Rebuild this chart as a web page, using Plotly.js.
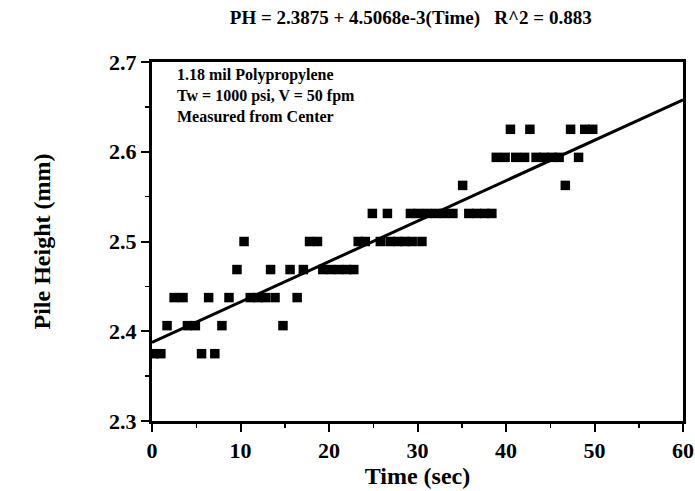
<!DOCTYPE html>
<html><head><meta charset="utf-8">
<script src="https://cdn.plot.ly/plotly-3.0.1.min.js"></script>
<style>html,body{margin:0;padding:0;background:#fff}</style>
</head><body><div id="chart" style="width:695px;height:491px"></div>
<script>
// Measured data (time in sec, pile height in mm)
const timeSec = [0.2,1.0,5.6,7.1,
  1.7,4.0,4.9,7.9,14.8,
  2.5,3.5,6.4,8.7,11.1,12.0,12.8,13.9,16.4,
  9.6,13.4,15.6,17.1,19.3,20.2,21.1,22.0,22.8,
  10.4,17.8,18.7,23.3,24.1,25.8,26.9,27.8,28.6,29.4,30.5,
  24.9,26.6,29.2,30.1,31.1,32.1,33.0,34.0,35.8,36.7,37.6,38.4,
  35.1,46.7,
  38.9,39.9,41.1,42.1,43.4,44.3,45.2,46.0,48.2,
  40.5,42.7,47.3,48.9,49.8];
const pileHeight = [2.375,2.375,2.375,2.375,
  2.40625,2.40625,2.40625,2.40625,2.40625,
  2.4375,2.4375,2.4375,2.4375,2.4375,2.4375,2.4375,2.4375,2.4375,
  2.46875,2.46875,2.46875,2.46875,2.46875,2.46875,2.46875,2.46875,2.46875,
  2.5,2.5,2.5,2.5,2.5,2.5,2.5,2.5,2.5,2.5,2.5,
  2.53125,2.53125,2.53125,2.53125,2.53125,2.53125,2.53125,2.53125,2.53125,2.53125,2.53125,2.53125,
  2.5625,2.5625,
  2.59375,2.59375,2.59375,2.59375,2.59375,2.59375,2.59375,2.59375,2.59375,
  2.625,2.625,2.625,2.625,2.625];
// Regression: PH = 2.3875 + 4.5068e-3 * Time
const fitIntercept = 2.3875;
const fitSlope = 4.5068e-3;
const fitX = [0, 60];
const fitY = fitX.map(t => fitIntercept + fitSlope * t);
const xTicks = [0,10,20,30,40,50,60];
const yTicks = [2.3,2.4,2.5,2.6,2.7];
const titleText = 'PH = 2.3875 + 4.5068e-3(Time)   R^2 = 0.883';
const noteLines = ['1.18 mil Polypropylene','Tw = 1000 psi, V = 50 fpm','Measured from Center'];

const serif = 'Liberation Serif, Times New Roman, serif';
const traces = [
  {x: timeSec, y: pileHeight, type:'scatter', mode:'markers',
   marker:{symbol:'square', size:9.5, color:'#000', line:{width:0}}, hoverinfo:'skip'},
  {x: fitX, y: fitY, type:'scatter', mode:'lines', line:{color:'#000', width:3}, hoverinfo:'skip'}
];
const axisCommon = {showgrid:false, zeroline:false, showline:true, linecolor:'#000', linewidth:3,
  mirror:true, ticks:'outside', ticklen:8, tickwidth:2, tickcolor:'#000',
  tickfont:{family:serif, size:22, color:'#000', weight:'bold'}};
const layout = {
  width:695, height:491, paper_bgcolor:'#fff', plot_bgcolor:'#fff', showlegend:false,
  margin:{l:152, r:12, t:62, b:70},
  title:{text: titleText, font:{family:serif, size:19, color:'#000', weight:'bold'},
         x:0.591, xanchor:'center', y:0.965, yanchor:'middle'},
  xaxis: Object.assign({}, axisCommon, {range:[0,60], tickvals:xTicks, ticktext:xTicks.map(String),
    minor:{tickvals:[5,15,25,35,45,55], ticklen:4, tickwidth:1.5, tickcolor:'#000', ticks:'outside'},
    title:{text:'Time (sec)', font:{family:serif, size:24, color:'#000', weight:'bold'}, standoff:4}}),
  yaxis: Object.assign({}, axisCommon, {range:[2.3,2.7], tickvals:yTicks, ticktext:yTicks.map(v=>v.toFixed(1)),
    minor:{tickvals:[2.35,2.45,2.55,2.65], ticklen:4, tickwidth:1.5, tickcolor:'#000', ticks:'outside'},
    title:{text:'Pile Height (mm)', font:{family:serif, size:24, color:'#000', weight:'bold'}, standoff:52}}),
  annotations: [{xref:'paper', yref:'paper', x:0.043, y:0.995, xanchor:'left', yanchor:'top', align:'left',
    showarrow:false, text: noteLines.join('<br>'),
    font:{family:serif, size:16, color:'#000', weight:'bold'}}]
};
Plotly.newPlot('chart', traces, layout, {staticPlot:true, displayModeBar:false});
</script></body></html>
